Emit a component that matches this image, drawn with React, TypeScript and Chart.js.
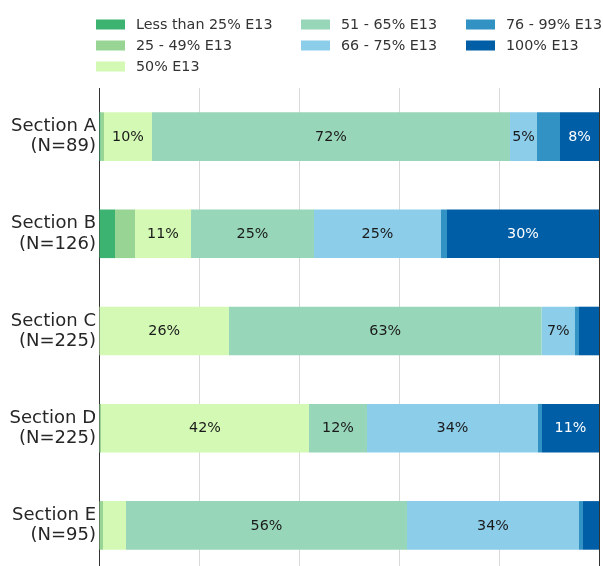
import React, { useEffect, useRef } from "react";
import { Chart, registerables } from "chart.js";

Chart.register(...registerables);

const categories: string[][] = [
  ["Section A", "(N=89)"],
  ["Section B", "(N=126)"],
  ["Section C", "(N=225)"],
  ["Section D", "(N=225)"],
  ["Section E", "(N=95)"],
];

const seriesNames = [
  "Less than 25% E13",
  "25 - 49% E13",
  "50% E13",
  "51 - 65% E13",
  "66 - 75% E13",
  "76 - 99% E13",
  "100% E13",
];

const lessThan25 = [0.3, 3.2, 0, 0, 0];
const from25to49 = [0.7, 4.0, 0, 0.4, 0.8];
const exactly50 = [9.6, 11.2, 26.0, 41.6, 4.6];
const from51to65 = [71.6, 24.6, 62.5, 11.6, 56.2];
const from66to75 = [5.4, 25.4, 6.7, 34.2, 34.4];
const from76to99 = [4.6, 1.2, 0.8, 0.8, 0.8];
const full100 = [7.8, 30.4, 4.0, 11.4, 3.2];

const seriesValues = [lessThan25, from25to49, exactly50, from51to65, from66to75, from76to99, full100];

const colors = ["#3cb371", "#98d594", "#d3f9b5", "#98d6b9", "#8ccdea", "#3392c4", "#005ea6"];
const labelColors = ["#1a1a1a", "#1a1a1a", "#1a1a1a", "#1a1a1a", "#1a1a1a", "#ffffff", "#ffffff"];

const FONT = "'DejaVu Sans', sans-serif";

const legendPlugin = {
  id: "columnLegend",
  afterDraw(chart: any) {
    const ctx = chart.ctx;
    const colX = [96, 301, 466];
    const rowY = [24.5, 45.5, 66.5];
    const layout = [
      [0, 0], [0, 1], [0, 2],
      [1, 0], [1, 1],
      [2, 0], [2, 1],
    ];
    ctx.save();
    ctx.font = `14.3px ${FONT}`;
    ctx.textBaseline = "middle";
    ctx.textAlign = "left";
    seriesNames.forEach((name, i) => {
      const [c, r] = layout[i];
      const x = colX[c];
      const y = rowY[r];
      ctx.fillStyle = colors[i];
      ctx.fillRect(x, y - 5, 29, 10);
      ctx.fillStyle = "#333333";
      ctx.fillText(name, x + 40, y + 0.5);
    });
    ctx.restore();
  },
};

const barLabelPlugin = {
  id: "barLabels",
  afterDatasetsDraw(chart: any) {
    const ctx = chart.ctx;
    ctx.save();
    ctx.font = `14.3px ${FONT}`;
    ctx.textAlign = "center";
    ctx.textBaseline = "middle";
    chart.data.datasets.forEach((ds: any, di: number) => {
      const meta = chart.getDatasetMeta(di);
      meta.data.forEach((bar: any, i: number) => {
        const v = ds.data[i] as number;
        if (v < 5) return;
        const cx = (bar.x + bar.base) / 2;
        ctx.fillStyle = labelColors[di];
        ctx.fillText(`${Math.round(v)}%`, cx, bar.y + 0.5);
      });
    });
    ctx.restore();
  },
};

const rightSpinePlugin = {
  id: "rightSpine",
  afterDatasetsDraw(chart: any) {
    const { ctx, chartArea } = chart;
    ctx.save();
    ctx.strokeStyle = "#333333";
    ctx.lineWidth = 1;
    ctx.beginPath();
    ctx.moveTo(chartArea.right + 0.5, chartArea.top);
    ctx.lineTo(chartArea.right + 0.5, chartArea.bottom);
    ctx.stroke();
    ctx.restore();
  },
};

export default function App() {
  const ref = useRef<HTMLCanvasElement>(null);

  useEffect(() => {
    if (!ref.current) return;
    const chart = new Chart(ref.current, {
      type: "bar",
      data: {
        labels: categories as any,
        datasets: seriesNames.map((name, i) => ({
          label: name,
          data: seriesValues[i],
          backgroundColor: colors[i],
          borderWidth: 0,
          categoryPercentage: 1,
          barPercentage: 0.5,
        })),
      },
      options: {
        indexAxis: "y",
        animation: false,
        responsive: false,
        devicePixelRatio: 1,
        layout: { padding: { top: 88, right: 4, left: 0, bottom: 0 } },
        plugins: {
          legend: { display: false },
          tooltip: { enabled: false },
        },
        scales: {
          x: {
            stacked: true,
            min: 0,
            max: 100,
            ticks: { display: false, stepSize: 20 },
            grid: { color: "#d9d9d9", drawTicks: false, lineWidth: 1 },
            border: { display: false },
            afterFit: (scale: any) => {
              scale.height = 0;
              scale.paddingLeft = 0;
              scale.paddingRight = 0;
            },
          },
          y: {
            stacked: true,
            ticks: {
              color: "#262626",
              font: { family: FONT, size: 18, lineHeight: 1.12 },
              padding: 3,
            },
            grid: { display: false, drawTicks: false },
            border: { display: true, color: "#333333", width: 1 },
            afterFit: (scale: any) => {
              scale.width = 99;
              scale.paddingTop = 0;
              scale.paddingBottom = 0;
            },
          },
        },
      },
      plugins: [legendPlugin, barLabelPlugin, rightSpinePlugin],
    });
    return () => chart.destroy();
  }, []);

  return (
    <div style={{ position: "fixed", top: 0, left: 0, width: 603, height: 574, background: "#ffffff" }}>
      <canvas ref={ref} width={603} height={574} style={{ width: 603, height: 574, display: "block" }} />
    </div>
  );
}
